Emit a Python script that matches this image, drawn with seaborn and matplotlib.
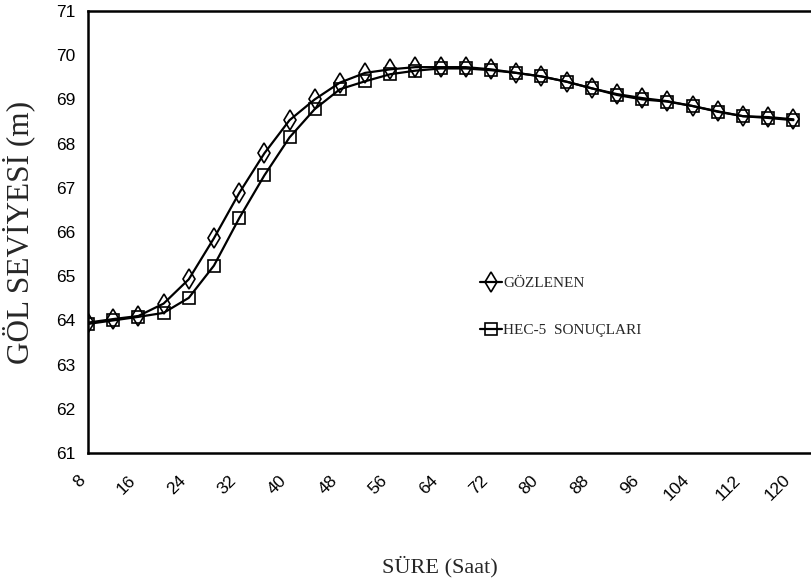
import matplotlib
matplotlib.use("Agg")
import matplotlib.pyplot as plt
from matplotlib.ticker import FixedLocator
import numpy as np
import pandas as pd
import seaborn as sns

# ---- data ----
hours = list(range(8, 121, 4))
gozlenen = [63.95, 64.03, 64.10, 64.38, 64.93, 65.86, 66.88, 67.78, 68.53, 69.00,
            69.38, 69.60, 69.68, 69.73, 69.73, 69.73, 69.68, 69.60, 69.52, 69.40,
            69.25, 69.12, 69.03, 68.96, 68.85, 68.73, 68.62, 68.60, 68.55]
hec5 = [63.92, 64.00, 64.08, 64.17, 64.51, 65.24, 66.31, 67.28, 68.14, 68.78,
        69.23, 69.41, 69.57, 69.65, 69.70, 69.70, 69.66, 69.60, 69.52, 69.40,
        69.25, 69.10, 69.00, 68.95, 68.85, 68.72, 68.62, 68.58, 68.53]
xtick_values = list(range(8, 121, 8))
xtick_labels = [str(v) for v in xtick_values]
ytick_values = list(range(61, 72))
series_names = ["GÖZLENEN", "HEC-5  SONUÇLARI"]

df = pd.DataFrame({"hours": hours, "gozlenen": gozlenen, "hec5": hec5})

sns.set_theme(style="white")
plt.rcParams["font.family"] = ["Liberation Sans", "DejaVu Sans"]

fig = plt.figure(figsize=(8.11, 5.87), dpi=100)
ax = fig.add_axes([88 / 811, (587 - 453) / 587, (811 - 88) / 811, (453 - 11) / 587])

sns.lineplot(data=df, x="hours", y="gozlenen", ax=ax, color="black", lw=1.6,
             marker="d", markersize=10, markerfacecolor="none",
             markeredgecolor="black", markeredgewidth=1.2, label=series_names[0])
sns.lineplot(data=df, x="hours", y="hec5", ax=ax, color="black", lw=1.6,
             marker="s", markersize=8.5, markerfacecolor="none",
             markeredgecolor="black", markeredgewidth=1.2, label=series_names[1])

ax.set_xlim(8, 122.8)
ax.set_ylim(61, 71)
ax.set_xticks(xtick_values)
ax.set_xticklabels(xtick_labels, rotation=45, ha="right", va="top",
                   rotation_mode="default", fontsize=12.5)
ax.xaxis.set_minor_locator(FixedLocator(hours))
ax.set_yticks(ytick_values)
ax.set_yticklabels([str(v) for v in ytick_values], fontsize=12.5)
ax.tick_params(axis="both", which="both", direction="in", length=4, width=1.2,
               color="black", labelcolor="black")
ax.tick_params(axis="x", which="major", pad=14)
ax.tick_params(axis="y", which="major", pad=9)

for s in ax.spines.values():
    s.set_color("black")
    s.set_linewidth(1.8)
ax.spines["right"].set_visible(False)

ax.set_xlabel("SÜRE (Saat)", family=["Liberation Serif", "DejaVu Serif"],
              fontsize=16, labelpad=38)
ax.xaxis.label.set_x((440 - 88) / 723)
ax.set_ylabel("GÖL SEVİYESİ (m)", family=["Liberation Serif", "DejaVu Serif"],
              fontsize=22.5, labelpad=15)

ax.legend(loc="center left", bbox_to_anchor=(0.532, 0.331), frameon=False,
          handlelength=1.4, handletextpad=0.1, borderpad=0, labelspacing=2.2,
          prop={"family": "Liberation Serif", "size": 11})

fig.savefig("out.png", dpi=100)
